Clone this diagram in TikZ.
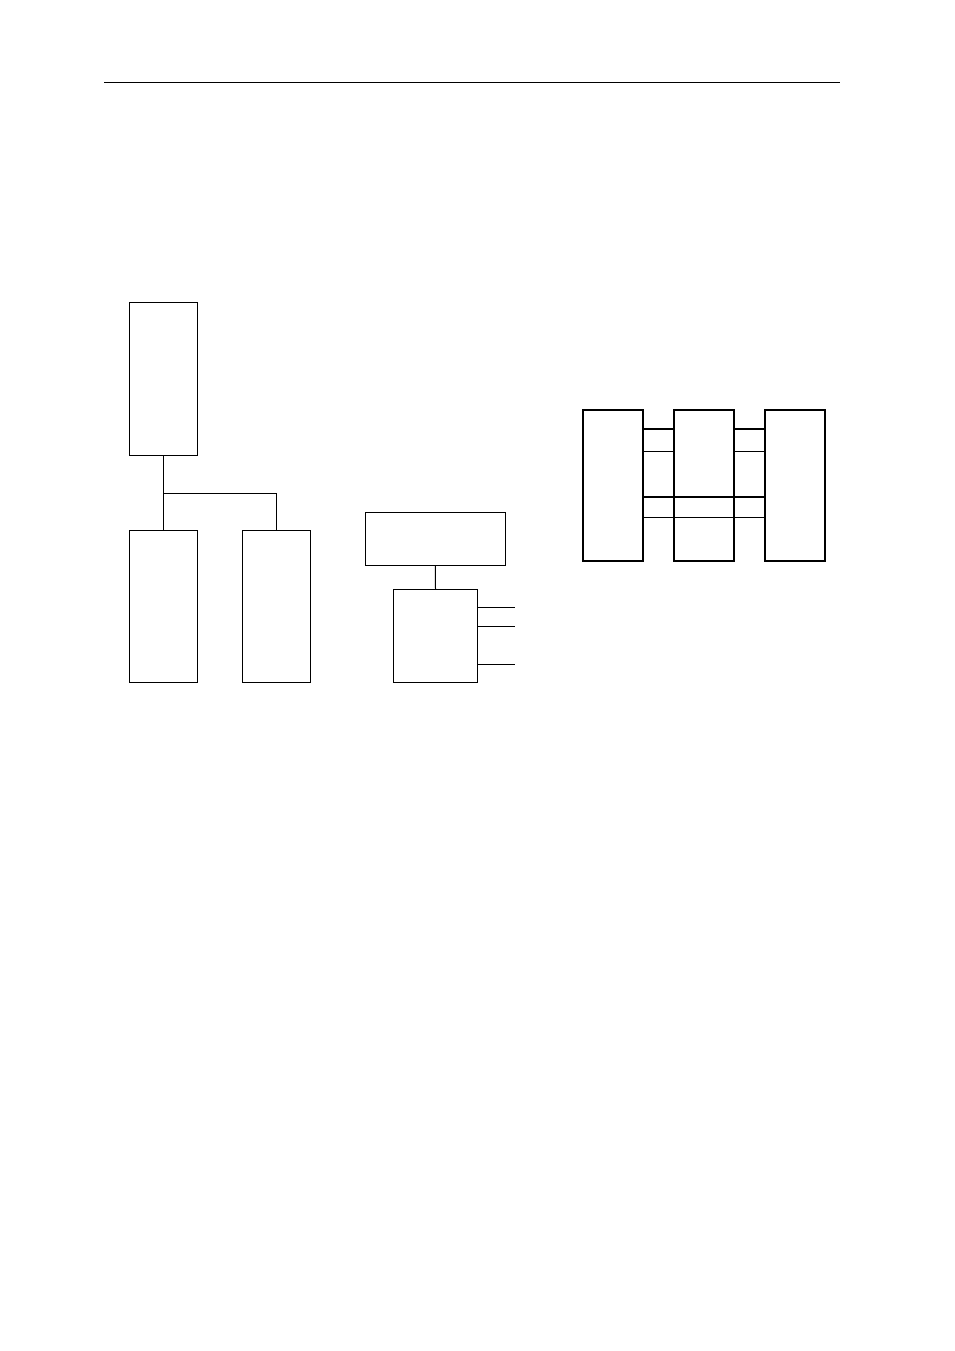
\documentclass[tikz,border=0pt]{standalone}
\usepackage{tikz}

\tikzset{
  blk/.style={draw, rectangle, inner sep=0pt, outer sep=0pt, line width=0.75pt},
  tall/.style={blk, minimum width=51pt, minimum height=114pt},
  cell/.style={blk, line width=1.5pt, minimum width=45.5pt, minimum height=113.3pt},
  thin/.style={line width=0.75pt},
  thick/.style={line width=1.5pt}
}

\begin{document}
\begin{tikzpicture}[x=0.75pt, y=-0.75pt]
\useasboundingbox (0,0) rectangle (954,1351);
% header rule
\coordinate (h1) at (104,82.3);
\coordinate (h2) at (840,82.3);
\draw[thin] (h1) -- (h2);

% tree on the left
\node[tall] (top) at (163.3,379) {};
\node[tall] (left) at (163.3,606) {};
\node[tall] (right) at (276.3,606) {};
\coordinate (fork) at (163.3,493);
\draw[thin] (top.south) -- (left.north);
\draw[thin] (fork) -| (right.north);

% middle pair
\node[blk, minimum width=105pt, minimum height=39.5pt] (head) at (435.3,538.7) {};
\node[blk, minimum width=62.7pt, minimum height=69.5pt] (unit) at (435.5,635.7) {};
\draw[thin] (head.south) -- (unit.north);
\coordinate (o1) at (515.3,607.3);
\coordinate (o2) at (515.3,626.3);
\coordinate (o3) at (515.3,664);
\foreach \o in {o1,o2,o3}
  \draw[thin] (\o -| unit.east) -- (\o);

% three cells on the right
\node[cell] (c1) at (613,485.2) {};
\node[cell] (c2) at (704,485.2) {};
\node[cell] (c3) at (795,485.2) {};
\coordinate (r1) at (0,428.7);
\coordinate (r2) at (0,451.3);
\coordinate (r3) at (0,496.7);
\coordinate (r4) at (0,517.3);
\draw[thick] (r1 -| c1.east) -- (r1 -| c2.west);
\draw[thick] (r1 -| c2.east) -- (r1 -| c3.west);
\draw[thin] (r2 -| c1.east) -- (r2 -| c2.west);
\draw[thin] (r2 -| c2.east) -- (r2 -| c3.west);
\draw[thick] (r3 -| c1.east) -- (r3 -| c3.west);
\draw[thin] (r4 -| c1.east) -- (r4 -| c3.west);
\end{tikzpicture}
\end{document}
